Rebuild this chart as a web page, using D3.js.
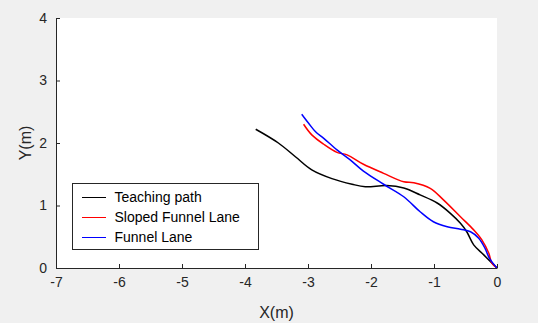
<!DOCTYPE html>
<html>
<head>
<meta charset="utf-8">
<script src="https://cdn.jsdelivr.net/npm/d3@7"></script>
<style>
  body { margin: 0; background: #f0f0f0; }
  svg { display: block; font-family: Arial, "Liberation Sans", Helvetica, sans-serif; }
</style>
</head>
<body>
<script>
// teaching path, sampled from the plot
const teachX = [-3.83, -3.47, -3.20, -2.94, -2.62, -2.30, -2.09, -1.75, -1.48, -1.22, -0.95, -0.74, -0.58, -0.48, -0.37, -0.21, -0.05, 0];
const teachY = [2.22, 2.00, 1.78, 1.57, 1.43, 1.34, 1.30, 1.32, 1.28, 1.17, 1.04, 0.875, 0.715, 0.58, 0.37, 0.21, 0.05, 0];

// sloped funnel lane
const slopedX = [-3.07, -2.94, -2.75, -2.54, -2.38, -2.12, -1.80, -1.48, -1.32, -1.06, -0.85, -0.58, -0.37, -0.24, -0.13, -0.08, 0];
const slopedY = [2.30, 2.13, 1.98, 1.85, 1.81, 1.66, 1.515, 1.38, 1.365, 1.275, 1.09, 0.82, 0.61, 0.45, 0.235, 0.075, 0];

// funnel lane
const funnelX = [-3.10, -2.99, -2.88, -2.75, -2.54, -2.33, -2.12, -1.80, -1.48, -1.22, -1.01, -0.79, -0.58, -0.42, -0.29, -0.19, -0.12, 0];
const funnelY = [2.46, 2.315, 2.18, 2.075, 1.89, 1.73, 1.55, 1.34, 1.14, 0.90, 0.74, 0.66, 0.62, 0.58, 0.475, 0.315, 0.155, 0];

const xTicks = [-7, -6, -5, -4, -3, -2, -1, 0];
const yTicks = [0, 1, 2, 3, 4];
const seriesNames = ["Teaching path", "Sloped Funnel Lane", "Funnel Lane"];
const seriesColors = ["#000000", "#ff0000", "#0000ff"];

const width = 538;
const height = 323;
const margin = { left: 56, right: 41, top: 18, bottom: 55 };

const svg = d3.select("body").append("svg")
  .attr("width", width)
  .attr("height", height);

const x = d3.scaleLinear().domain([-7, 0]).range([margin.left, width - margin.right]);
const y = d3.scaleLinear().domain([0, 4]).range([height - margin.bottom, margin.top]);

svg.append("rect")
  .attr("x", x(-7)).attr("y", y(4))
  .attr("width", x(0) - x(-7)).attr("height", y(0) - y(4))
  .attr("fill", "#fff");

const series = [
  teachX.map((d, i) => [d, teachY[i]]),
  slopedX.map((d, i) => [d, slopedY[i]]),
  funnelX.map((d, i) => [d, funnelY[i]])
];

const line = d3.line()
  .x(d => x(d[0]))
  .y(d => y(d[1]))
  .curve(d3.curveCatmullRom.alpha(0.5));

svg.selectAll("path.series")
  .data(series)
  .enter()
  .append("path")
  .attr("class", "series")
  .attr("d", line)
  .attr("fill", "none")
  .attr("stroke", (d, i) => seriesColors[i])
  .attr("stroke-width", 1.5);

// axes, ticks pointing inward like matlab, plain hyphen minus
const fmt = d => String(d);
const xAxis = svg.append("g")
  .attr("transform", `translate(0,${y(0)})`)
  .call(d3.axisBottom(x).tickValues(xTicks).tickFormat(fmt).tickSizeInner(-4).tickSizeOuter(0).tickPadding(9));
const yAxis = svg.append("g")
  .attr("transform", `translate(${x(-7)},0)`)
  .call(d3.axisLeft(y).tickValues(yTicks).tickFormat(fmt).tickSizeInner(-4).tickSizeOuter(0).tickPadding(9));

[xAxis, yAxis].forEach(g => {
  g.select(".domain").attr("stroke", "#262626");
  g.selectAll(".tick line").attr("stroke", "#262626");
  g.selectAll(".tick text")
    .attr("fill", "#262626")
    .style("font-size", "14px")
    .style("font-family", "Arial, 'Liberation Sans', sans-serif");
});

svg.append("text")
  .attr("x", (x(-7) + x(0)) / 2)
  .attr("y", 318)
  .attr("text-anchor", "middle")
  .attr("fill", "#262626")
  .style("font-size", "16px")
  .text("X(m)");

svg.append("text")
  .attr("transform", `translate(31,${(y(0) + y(4)) / 2}) rotate(-90)`)
  .attr("text-anchor", "middle")
  .attr("fill", "#262626")
  .style("font-size", "16px")
  .text("Y(m)");

// legend
const legend = svg.append("g").attr("transform", "translate(72.5,183.5)");
legend.append("rect")
  .attr("width", 186).attr("height", 66)
  .attr("fill", "#fff")
  .attr("stroke", "#262626")
  .attr("stroke-width", 1);

const rows = legend.selectAll("g.row")
  .data(seriesNames.map((name, i) => ({ name: name, color: seriesColors[i] })))
  .enter()
  .append("g")
  .attr("class", "row")
  .attr("transform", (d, i) => `translate(0,${14 + i * 20})`);

rows.append("line")
  .attr("x1", 9).attr("x2", 33)
  .attr("stroke", d => d.color)
  .attr("stroke-width", 1.2)
  .attr("shape-rendering", "crispEdges");

rows.append("text")
  .attr("x", 42)
  .attr("dy", "0.35em")
  .attr("fill", "#000")
  .style("font-size", "14px")
  .text(d => d.name);
</script>
</body>
</html>
